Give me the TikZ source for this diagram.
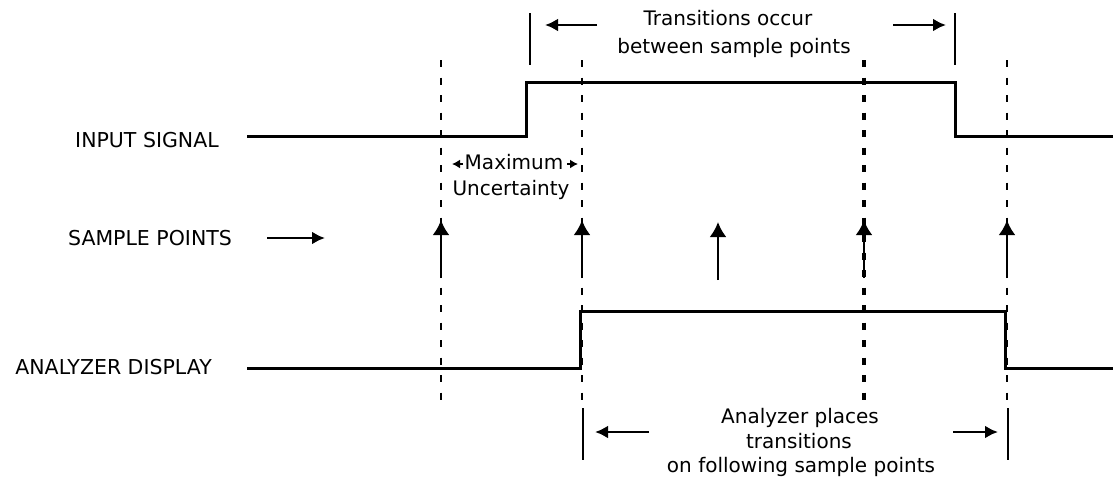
\documentclass[tikz,border=0pt]{standalone}
\usepackage{fontspec}
\setmainfont{DejaVu Sans}
\usetikzlibrary{arrows.meta}
\begin{document}
\begin{tikzpicture}[x=1pt,y=-1pt,
  sig/.style={line width=3pt, line join=miter},
  vdash/.style={line width=2.8pt, dash pattern=on 7pt off 10.5pt},
  vdashbold/.style={line width=3.4pt, dash pattern=on 7pt off 10.5pt},
  bracketline/.style={line width=2.6pt},
  harrow/.style={line width=2.6pt, -{Latex[length=13pt,width=13pt]}},
  smallarrow/.style={line width=1.8pt, -{Latex[length=8pt,width=9pt]}},
  sarrow/.style={line width=2.6pt, -{Latex[length=15pt,width=17pt]}},
  caplabel/.style={font=\fontsize{20.5}{24}\selectfont, inner sep=0pt},
  txt/.style={font=\fontsize{20}{24}\selectfont, inner sep=0pt},
]
\useasboundingbox (0,0) rectangle (1113,480);

% ---- input signal
\coordinate (i0) at (247,136);
\coordinate (i1) at (526,136);
\coordinate (i2) at (526,82);
\coordinate (i3) at (955,82);
\coordinate (i4) at (955,136);
\coordinate (i5) at (1113,136);
\draw[sig] (i0) -- (i1) -- (i2) -- (i3) -- (i4) -- (i5);

% ---- analyzer display
\coordinate (a0) at (247,368);
\coordinate (a1) at (580,368);
\coordinate (a2) at (580,311);
\coordinate (a3) at (1005,311);
\coordinate (a4) at (1005,368);
\coordinate (a5) at (1113,368);
\draw[sig] (a0) -- (a1) -- (a2) -- (a3) -- (a4) -- (a5);

% ---- dashed sample lines
\coordinate (d1t) at (441,60);  \coordinate (d1b) at (441,400);
\coordinate (d2t) at (582,60);  \coordinate (d2b) at (582,400);
\coordinate (d3t) at (864,60);  \coordinate (d3b) at (864,400);
\coordinate (d4t) at (1007,60); \coordinate (d4b) at (1007,400);
\draw[vdash] (d1t) -- (d1b);
\draw[vdash] (d2t) -- (d2b);
\draw[vdashbold] (d3t) -- (d3b);
\draw[vdash] (d4t) -- (d4b);

% ---- sample point arrows
\coordinate (s1b) at (441,278);  \coordinate (s1t) at (441,220);
\coordinate (s2b) at (582,278);  \coordinate (s2t) at (582,220);
\coordinate (s3b) at (718,280);  \coordinate (s3t) at (718,222);
\coordinate (s4b) at (864,278);  \coordinate (s4t) at (864,220);
\coordinate (s5b) at (1007,278); \coordinate (s5t) at (1007,220);
\draw[sarrow] (s1b) -- (s1t);
\draw[sarrow] (s2b) -- (s2t);
\draw[sarrow] (s3b) -- (s3t);
\draw[sarrow] (s4b) -- (s4t);
\draw[sarrow] (s5b) -- (s5t);

% ---- left labels
\node[caplabel, anchor=base] (lin) at (147,147) {INPUT SIGNAL};
\node[caplabel, anchor=base] (lsp) at (150,245) {SAMPLE POINTS};
\node[caplabel, anchor=base east] (lad) at (212,374) {ANALYZER DISPLAY};
\coordinate (spa0) at (267,238);
\coordinate (spa1) at (325,238);
\draw[harrow] (spa0) -- (spa1);

% ---- top bracket
\coordinate (tb1t) at (530,13); \coordinate (tb1b) at (530,65);
\coordinate (tb2t) at (955,13); \coordinate (tb2b) at (955,65);
\draw[bracketline] (tb1t) -- (tb1b);
\draw[bracketline] (tb2t) -- (tb2b);
\coordinate (ta1s) at (597,25); \coordinate (ta1e) at (545,25);
\coordinate (ta2s) at (893,25); \coordinate (ta2e) at (946,25);
\draw[harrow] (ta1s) -- (ta1e);
\draw[harrow] (ta2s) -- (ta2e);
\node[txt, anchor=base] (tt1) at (728,25) {Transitions occur};
\node[txt, anchor=base] (tt2) at (734,53) {between sample points};

% ---- maximum uncertainty
\node[txt, anchor=base] (mx) at (514,169) {Maximum};
\node[txt, anchor=base] (mu) at (511,195) {Uncertainty};
\coordinate (mla) at (463,164); \coordinate (mlb) at (452,164);
\coordinate (mra) at (567,164); \coordinate (mrb) at (578,164);
\draw[smallarrow] (mla) -- (mlb);
\draw[smallarrow] (mra) -- (mrb);

% ---- bottom bracket
\coordinate (bb1t) at (583,408);  \coordinate (bb1b) at (583,460);
\coordinate (bb2t) at (1008,408); \coordinate (bb2b) at (1008,460);
\draw[bracketline] (bb1t) -- (bb1b);
\draw[bracketline] (bb2t) -- (bb2b);
\coordinate (ba1s) at (649,432); \coordinate (ba1e) at (595,432);
\coordinate (ba2s) at (953,432); \coordinate (ba2e) at (998,432);
\draw[harrow] (ba1s) -- (ba1e);
\draw[harrow] (ba2s) -- (ba2e);
\node[txt, anchor=base] (bt1) at (800,423) {Analyzer places};
\node[txt, anchor=base] (bt2) at (799,448) {transitions};
\node[txt, anchor=base] (bt3) at (801,472) {on following sample points};
\end{tikzpicture}
\end{document}
